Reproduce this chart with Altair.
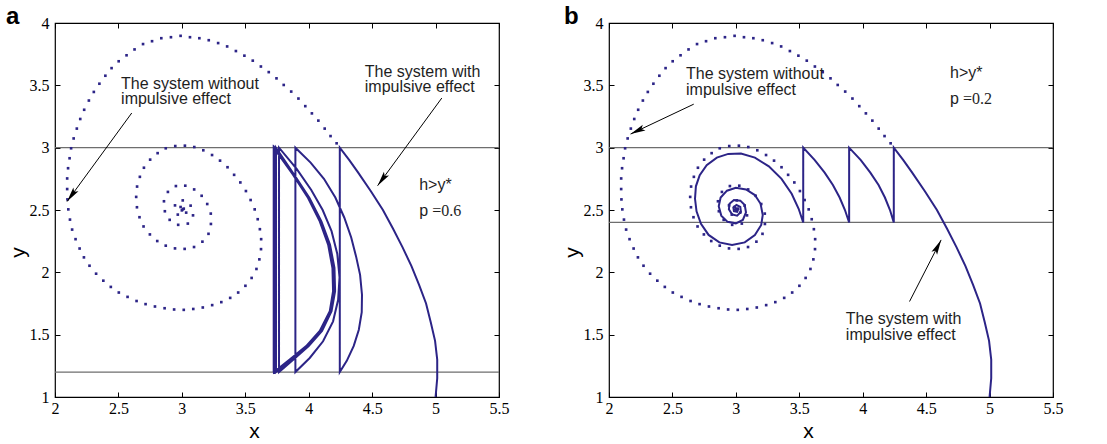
import math
import altair as alt
import pandas as pd

NAVY = "#2c2487"
GREY = "#6e6e6e"
W, H = 444, 374
X_DOMAIN = [2, 5.5]
Y_DOMAIN = [1, 4]
X_TICKS = [2, 2.5, 3, 3.5, 4, 4.5, 5, 5.5]
Y_TICKS = [1, 1.5, 2, 2.5, 3, 3.5, 4]

# ---- dotted trajectory (system without impulsive effect)
dots_outer = [
    (4.220, 3.035), (4.172, 3.093), (4.126, 3.153), (4.076, 3.217), (4.025, 3.275),
    (3.973, 3.333), (3.919, 3.394), (3.862, 3.450), (3.803, 3.503), (3.746, 3.556),
    (3.685, 3.606), (3.623, 3.651), (3.559, 3.698), (3.493, 3.738), (3.426, 3.775),
    (3.357, 3.812), (3.286, 3.839), (3.212, 3.862), (3.138, 3.878), (3.064, 3.886),
    (2.990, 3.897), (2.914, 3.886), (2.838, 3.878), (2.765, 3.854), (2.694, 3.831),
    (2.627, 3.788), (2.564, 3.741), (2.502, 3.693), (2.446, 3.638), (2.397, 3.577),
    (2.350, 3.513), (2.306, 3.447), (2.267, 3.378), (2.230, 3.304), (2.199, 3.230),
    (2.172, 3.153), (2.147, 3.074), (2.127, 2.995), (2.115, 2.915), (2.103, 2.835),
    (2.096, 2.753), (2.096, 2.668), (2.098, 2.585), (2.105, 2.505), (2.118, 2.423),
    (2.135, 2.343), (2.162, 2.266), (2.194, 2.191), (2.228, 2.120), (2.272, 2.053),
    (2.324, 1.989), (2.381, 1.933), (2.440, 1.883), (2.503, 1.838), (2.572, 1.803),
    (2.643, 1.770), (2.714, 1.745), (2.788, 1.726), (2.864, 1.712), (2.939, 1.702),
    (3.015, 1.699), (3.090, 1.706), (3.165, 1.718), (3.239, 1.737), (3.311, 1.761),
    (3.381, 1.795), (3.444, 1.838), (3.501, 1.892), (3.550, 1.955), (3.588, 2.027),
    (3.611, 2.104), (3.624, 2.186), (3.625, 2.266), (3.615, 2.346), (3.598, 2.426),
    (3.574, 2.505), (3.542, 2.580), (3.505, 2.652), (3.461, 2.721), (3.412, 2.782),
    (3.360, 2.843), (3.301, 2.896), (3.238, 2.941), (3.169, 2.979), (3.098, 3.005),
]
dots_second = [
    (3.024, 3.016), (2.948, 3.013), (2.873, 2.995), (2.809, 2.956), (2.750, 2.904),
    (2.701, 2.839), (2.669, 2.766), (2.647, 2.688), (2.640, 2.605), (2.646, 2.522),
    (2.666, 2.442), (2.698, 2.368), (2.748, 2.304), (2.806, 2.251), (2.873, 2.214),
    (2.946, 2.192), (3.022, 2.188), (3.096, 2.203), (3.162, 2.246), (3.210, 2.309),
    (3.229, 2.388), (3.228, 2.471), (3.200, 2.548), (3.156, 2.614), (3.097, 2.665),
]
dots_inner = [
    (3.027, 2.695), (2.953, 2.692), (2.890, 2.645), (2.859, 2.570), (2.866, 2.490),
    (2.904, 2.421), (2.971, 2.381), (3.047, 2.391), (3.088, 2.457), (3.069, 2.535),
    (3.007, 2.577), (2.946, 2.537), (2.968, 2.463), (3.034, 2.479), (3.015, 2.511),
    (2.990, 2.524), (3.000, 2.497), (3.008, 2.505),
]

# ---- impulsive trajectories
arc0_x = [5.000, 5.013, 5.013, 4.996, 4.962, 4.925, 4.870, 4.810, 4.740, 4.665, 4.585, 4.490, 4.390, 4.320, 4.245]
arc0_y = [1.00, 1.15, 1.30, 1.45, 1.60, 1.75, 1.90, 2.05, 2.20, 2.35, 2.50, 2.65, 2.80, 2.90, 3.00]

# panel a (p = 0.6): jumps from y=3 to y=1.2
a1_x = [4.245, 4.300, 4.355, 4.395, 4.418, 4.420, 4.405, 4.375, 4.335, 4.280, 4.210, 4.120, 4.015, 3.895]
a1_y = [1.200, 1.290, 1.410, 1.540, 1.680, 1.820, 1.980, 2.120, 2.280, 2.440, 2.600, 2.750, 2.880, 3.000]
a2_x = [3.895, 4.008, 4.113, 4.192, 4.232, 4.243, 4.225, 4.180, 4.110, 4.020, 3.905, 3.766]
a2_y = [1.200, 1.313, 1.447, 1.607, 1.780, 1.960, 2.150, 2.330, 2.500, 2.660, 2.830, 3.000]
cyc_y = [1.200, 1.300, 1.408, 1.530, 1.688, 1.848, 2.035, 2.222, 2.409, 2.596, 2.783, 3.000]
a3_x = [3.766, 3.880, 4.000, 4.105, 4.180, 4.208, 4.203, 4.168, 4.100, 4.006, 3.886, 3.742]
a4_x = [3.742, 3.862, 3.988, 4.094, 4.172, 4.198, 4.193, 4.159, 4.092, 3.999, 3.879, 3.731]
a5_x = [3.731, 3.854, 3.982, 4.089, 4.168, 4.194, 4.189, 4.155, 4.089, 3.996, 3.877, 3.726]
a6_x = [3.726, 3.850, 3.980, 4.087, 4.166, 4.192, 4.187, 4.153, 4.087, 3.995, 3.876, 3.724]
a_last_x = [3.724]
a_last_y = [1.200]

# panel b (p = 0.2): jumps from y=3 to y=2.4
saw_y = [2.400, 2.500, 2.600, 2.700, 2.800, 2.900, 3.000]
b1_x = [4.245, 4.215, 4.175, 4.125, 4.060, 3.985, 3.893]
b2_x = [3.893, 3.860, 3.818, 3.765, 3.700, 3.622, 3.531]
b3_x = [3.531, 3.495, 3.440, 3.360, 3.260, 3.150, 3.040, 2.940, 2.850, 2.770, 2.715, 2.685, 2.678,
        2.690, 2.725, 2.785, 2.870, 2.970, 3.070, 3.150, 3.200, 3.212, 3.195, 3.150, 3.080, 3.000,
        2.930, 2.880, 2.865, 2.885, 2.935, 3.000, 3.055, 3.080, 3.070, 3.035, 2.985, 2.950, 2.945,
        2.970, 3.010, 3.040, 3.035, 3.005, 2.980, 2.985, 3.010, 3.018, 3.000, 2.995]
b3_y = [2.400, 2.510, 2.630, 2.750, 2.850, 2.920, 2.953, 2.950, 2.920, 2.860, 2.780, 2.690, 2.590,
        2.490, 2.390, 2.300, 2.240, 2.220, 2.240, 2.300, 2.380, 2.460, 2.550, 2.620, 2.665, 2.678,
        2.655, 2.600, 2.530, 2.455, 2.405, 2.393, 2.420, 2.480, 2.540, 2.575, 2.580, 2.550, 2.505,
        2.465, 2.455, 2.485, 2.525, 2.540, 2.520, 2.490, 2.485, 2.505, 2.515, 2.500]

# threshold lines
a_hlines = [3.0, 1.2]
b_hlines = [3.0, 2.4]

# annotations: (text, x, y)
a_texts = [("The system without", 2.521, 3.473), ("impulsive effect", 2.521, 3.349),
           ("The system with", 4.442, 3.570), ("impulsive effect", 4.442, 3.446),
           ("h>y*", 4.871, 2.658), ("p", 4.871, 2.449)]
a_serif = [("=0.6", 4.871, 2.449)]
b_texts = [("The system without", 2.607, 3.549), ("impulsive effect", 2.607, 3.425),
           ("h>y*", 4.688, 3.560), ("p", 4.688, 3.354),
           ("The system with", 3.867, 1.585), ("impulsive effect", 3.867, 1.461)]
b_serif = [("=0.2", 4.688, 3.354)]

# arrows: (start x, start y, tip x, tip y)
a_arrows = [(2.605, 3.278, 2.095, 2.568), (5.049, 3.398, 4.543, 2.695)]
b_arrows = [(2.668, 3.349, 2.170, 3.109), (4.369, 1.766, 4.618, 2.260)]

HEAD = "M0,0L-0.42,2L0,1.6L0.42,2Z"
PX = W / (X_DOMAIN[1] - X_DOMAIN[0])
PY = H / (Y_DOMAIN[1] - Y_DOMAIN[0])


def path_df(segments):
    rows = []
    for xs, ys in segments:
        for x, y in zip(xs, ys):
            rows.append({"x": x, "y": y, "i": len(rows)})
    return pd.DataFrame(rows)


def arrow_df(arrows):
    rows = []
    for sx, sy, tx, ty in arrows:
        dxs = (tx - sx) * PX
        dys = -(ty - sy) * PY
        ang = math.degrees(math.atan2(dxs, -dys)) % 360
        rows.append({"sx": sx, "sy": sy, "tx": tx, "ty": ty, "angle": ang})
    return pd.DataFrame(rows)


def text_df(items):
    return pd.DataFrame([{"t": t, "x": x, "y": y} for t, x, y in items])


dots_df = pd.DataFrame(dots_outer + dots_second + dots_inner, columns=["x", "y"])

xs = alt.Scale(domain=X_DOMAIN, nice=False, zero=False)
ys = alt.Scale(domain=Y_DOMAIN, nice=False, zero=False)

bottom_axis = alt.Axis(orient="bottom", values=X_TICKS, format="~g", offset=-5, tickSize=5,
                       tickColor="black", tickWidth=1, domain=False, grid=False,
                       labelFont="Liberation Serif", labelFontSize=16, labelColor="black",
                       labelPadding=3, labelFlush=False, title="x", titleFont="Liberation Sans",
                       titleFontSize=21, titleFontWeight="normal", titleColor="black",
                       titlePadding=4, titleX=199)
left_axis = alt.Axis(orient="left", values=Y_TICKS, format="~g", offset=-5, tickSize=5,
                     tickColor="black", tickWidth=1, domain=False, grid=False,
                     labelFont="Liberation Serif", labelFontSize=16, labelColor="black",
                     labelPadding=6, labelFlush=False, title="y", titleFont="Liberation Sans",
                     titleFontSize=21, titleFontWeight="normal", titleColor="black",
                     titlePadding=1, titleY=229)
top_axis = alt.Axis(orient="top", values=X_TICKS, offset=-5, tickSize=5, tickColor="black",
                    tickWidth=1, domain=False, grid=False, labels=False, title=None,
                    minExtent=0, maxExtent=0)
right_axis = alt.Axis(orient="right", values=Y_TICKS, offset=-5, tickSize=5, tickColor="black",
                      tickWidth=1, domain=False, grid=False, labels=False, title=None,
                      minExtent=0, maxExtent=0)


def panel(segments, hlines, texts, serif, arrows, label, label_dx):
    rules = alt.Chart(pd.DataFrame({"y": hlines})).mark_rule(color=GREY, strokeWidth=1.3).encode(
        y=alt.Y("y:Q", scale=ys, axis=None))
    dots = alt.Chart(dots_df).mark_square(size=7, color=NAVY, opacity=1).encode(
        x=alt.X("x:Q", scale=xs, axis=bottom_axis),
        y=alt.Y("y:Q", scale=ys, axis=left_axis))
    line = alt.Chart(path_df(segments)).mark_line(color=NAVY, strokeWidth=2).encode(
        x=alt.X("x:Q", scale=xs, axis=top_axis),
        y=alt.Y("y:Q", scale=ys, axis=right_axis),
        order=alt.Order("i:Q"))
    adf = arrow_df(arrows)
    shafts = alt.Chart(adf).mark_rule(color="black", strokeWidth=1).encode(
        x=alt.X("sx:Q", scale=xs, axis=None), y=alt.Y("sy:Q", scale=ys, axis=None),
        x2="tx:Q", y2="ty:Q")
    heads = alt.Chart(adf).mark_point(shape=HEAD, filled=True, size=225, color="black",
                                      opacity=1, strokeWidth=0).encode(
        x=alt.X("tx:Q", scale=xs, axis=None), y=alt.Y("ty:Q", scale=ys, axis=None),
        angle=alt.Angle("angle:Q", scale=None))
    txt = alt.Chart(text_df(texts)).mark_text(align="left", baseline="alphabetic",
                                              font="Liberation Sans", fontSize=16,
                                              color="#1e1e1e").encode(
        x=alt.X("x:Q", scale=xs, axis=None), y=alt.Y("y:Q", scale=ys, axis=None), text="t:N")
    stxt = alt.Chart(text_df(serif)).mark_text(align="left", baseline="alphabetic", dx=13,
                                               font="Liberation Serif", fontSize=16,
                                               color="#1e1e1e").encode(
        x=alt.X("x:Q", scale=xs, axis=None), y=alt.Y("y:Q", scale=ys, axis=None), text="t:N")
    tag = alt.Chart(pd.DataFrame({"t": [label]})).mark_text(
        align="left", baseline="alphabetic", font="Liberation Sans", fontSize=24,
        fontWeight="bold", color="black").encode(
        x=alt.value(label_dx), y=alt.value(1), text="t:N")
    return alt.layer(rules, dots, line, shafts, heads, txt, stxt, tag).properties(
        width=W, height=H)


seg_a = [(arc0_x, arc0_y), (a1_x, a1_y), (a2_x, a2_y), (a3_x, cyc_y), (a4_x, cyc_y),
         (a5_x, cyc_y), (a6_x, cyc_y), (a_last_x, a_last_y)]
seg_b = [(arc0_x, arc0_y), (b1_x, saw_y), (b2_x, saw_y), (b3_x, b3_y)]

pa = panel(seg_a, a_hlines, a_texts, a_serif, a_arrows, "a", -49)
pb = panel(seg_b, b_hlines, b_texts, b_serif, b_arrows, "b", -45)

chart = alt.hconcat(pa, pb, spacing=50).properties(
    padding={"left": 5, "top": 4, "right": 5, "bottom": 0},
    background="white",
).configure_view(stroke="black", strokeWidth=1.2)

chart.save("out.html", embed_options={"renderer": "svg", "actions": False})
